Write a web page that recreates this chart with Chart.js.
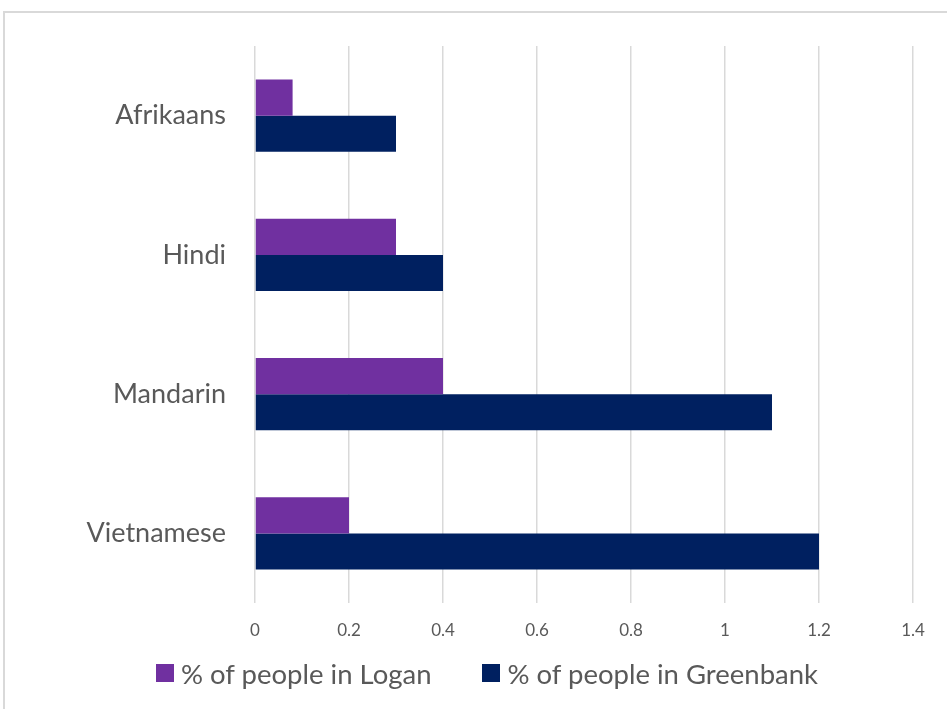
<!DOCTYPE html>
<html>
<head>
<meta charset="utf-8">
<script src="https://cdn.jsdelivr.net/npm/chart.js@4"></script>
<style>
  html, body { margin: 0; padding: 0; background: #fff; overflow: hidden; }
  #frame { position: absolute; left: 3px; top: 11px; width: 1000px; height: 1000px; border: 2px solid #d9d9d9; box-sizing: border-box; }
  #wrap { position: absolute; left: 0; top: 0; width: 947px; height: 709px; }
  #legend { position: absolute; left: 156px; top: 656px; height: 34px; display: flex; align-items: center; gap: 51px;
            font-family: Lato, "Open Sans", sans-serif; font-size: 27.5px; color: #595959; white-space: nowrap; }
  #legend .item { display: flex; align-items: center; gap: 7px; }
  #legend .box { width: 18px; height: 18px; display: inline-block; }
</style>
</head>
<body>
<div id="frame"></div>
<div id="wrap"><canvas id="chart-languages" width="947" height="709"></canvas></div>
<div id="legend"></div>
<script>
// Languages spoken at home - Logan vs Greenbank
const languages = ['Afrikaans', 'Hindi', 'Mandarin', 'Vietnamese'];
const loganPct = [0.08, 0.3, 0.4, 0.2];
const greenbankPct = [0.3, 0.4, 1.1, 1.2];
const seriesNames = ['% of people in Logan', '% of people in Greenbank'];
const seriesColors = ['#7030a0', '#002060'];

const textColor = '#595959';
const gridColor = '#d9d9d9';
const fontFamily = 'Lato, "Open Sans", sans-serif';

const ctx = document.getElementById('chart-languages').getContext('2d');
const chart = new Chart(ctx, {
    type: 'bar',
    data: {
        labels: languages,
        datasets: [
            { label: seriesNames[0], data: loganPct, backgroundColor: seriesColors[0], borderWidth: 0 },
            { label: seriesNames[1], data: greenbankPct, backgroundColor: seriesColors[1], borderWidth: 0 }
        ]
    },
    options: {
        indexAxis: 'y',
        responsive: false,
        animation: false,
        devicePixelRatio: 1,
        datasets: { bar: { categoryPercentage: 0.52, barPercentage: 1 } },
        layout: { padding: { top: 46, left: 0, right: 34, bottom: 66 } },
        plugins: {
            tooltip: { enabled: false },
            legend: { display: false }
        },
        scales: {
            x: {
                min: 0,
                max: 1.4,
                ticks: {
                    stepSize: 0.2,
                    color: textColor,
                    padding: 17,
                    font: { family: fontFamily, size: 17 },
                    callback: v => String(parseFloat(v.toFixed(1)))
                },
                grid: { color: gridColor, lineWidth: 1.5, drawTicks: false },
                border: { display: false },
                afterFit: s => { s.height = 40; }
            },
            y: {
                ticks: { color: textColor, padding: 29, font: { family: fontFamily, size: 27 } },
                grid: { display: false, drawTicks: false },
                border: { display: false },
                afterFit: s => { s.width = 255; }
            }
        }
    }
});

// html legend built from the chart's datasets
const legendEl = document.getElementById('legend');
chart.data.datasets.forEach(ds => {
    const item = document.createElement('span');
    item.className = 'item';
    const box = document.createElement('span');
    box.className = 'box';
    box.style.background = ds.backgroundColor;
    const label = document.createElement('span');
    label.textContent = ds.label;
    item.appendChild(box);
    item.appendChild(label);
    legendEl.appendChild(item);
});
</script>
</body>
</html>
